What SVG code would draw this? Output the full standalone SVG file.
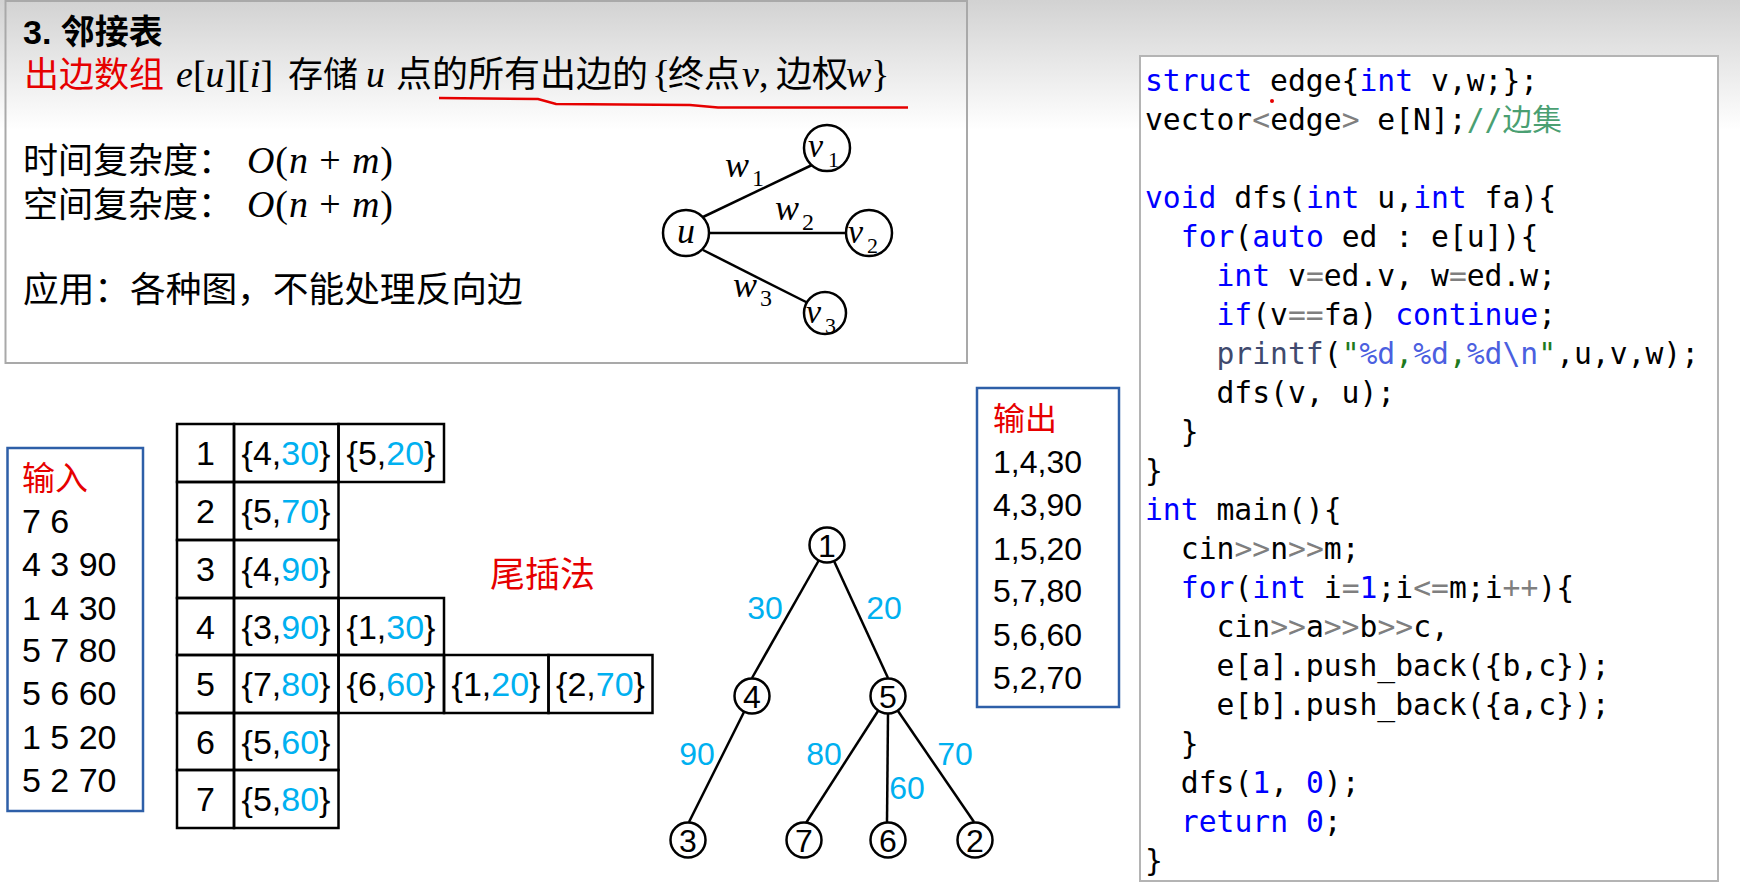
<svg xmlns="http://www.w3.org/2000/svg" width="1740" height="892" viewBox="0 0 1740 892">
<defs>
<linearGradient id="bg" gradientUnits="userSpaceOnUse" x1="0" y1="0" x2="0" y2="130">
<stop offset="0" stop-color="#d2d2d2"/>
<stop offset="1" stop-color="#ffffff"/>
</linearGradient>
<style>
.cjk{font-family:"Noto Sans CJK SC",sans-serif;fill:#000}
.red{fill:#e60000}
.math{font-family:"Liberation Serif",serif;font-style:italic;fill:#000}
.up{font-style:normal}
.lat{font-family:"Liberation Sans",Arial,sans-serif;fill:#000}
.cyan{fill:#00b0f0}
.box{fill:none;stroke:#2e5fa8;stroke-width:2.5}
.cell{fill:none;stroke:#000;stroke-width:2.5}
.node{fill:#fff;stroke:#000;stroke-width:2.5}
.edge{stroke:#000;stroke-width:2.5;fill:none}
.code{font-family:"DejaVu Sans Mono","Liberation Mono",monospace;font-size:29.7px;fill:#000;white-space:pre}
.kw{fill:#0000ff}
.op{fill:#7f7f7f}
.fn{fill:#3f4a6e}
.str{fill:#1e7a1e}
.fmt{fill:#4b5fe0}
.cm{fill:#4a9f72}
.tc{text-anchor:middle}
</style>
</defs>
<rect x="0" y="0" width="1740" height="892" fill="#fff"/>
<rect x="0" y="0" width="1740" height="130" fill="url(#bg)"/>

<!-- top box -->
<g id="topbox">
<rect x="5.5" y="1" width="961.5" height="362" fill="none" stroke="#a9a9a9" stroke-width="2"/>
<text class="cjk" x="23" y="44" font-size="34" font-weight="bold"><tspan font-family="Liberation Sans,Arial,sans-serif">3. </tspan>邻接表</text>
<text class="cjk red" x="24" y="87" font-size="35">出边数组</text>
<text class="math" x="176" y="87" font-size="38">e<tspan class="up">[</tspan>u<tspan class="up">][</tspan>i<tspan class="up">]</tspan></text>
<text class="cjk" x="288" y="87" font-size="35">存储</text>
<text class="math" x="366" y="87" font-size="38">u</text>
<text class="cjk" x="396" y="87" font-size="36">点的所有出边的</text>
<text class="math up" x="652" y="87" font-size="38">{</text>
<text class="cjk" x="668" y="87" font-size="36">终点</text>
<text class="math" x="742" y="87" font-size="38">v<tspan class="up">,</tspan></text>
<text class="cjk" x="776" y="87" font-size="36">边权</text>
<text class="math" x="846" y="87" font-size="38">w<tspan class="up">}</tspan></text>
<path d="M439 98 L538 99 L556 104 L690 105 L718 107.5 L908 107.5" fill="none" stroke="#e60000" stroke-width="2.5"/>
<text class="cjk" x="23" y="173" font-size="35">时间复杂度：</text>
<text class="math" x="247" y="173" font-size="38" textLength="146">O<tspan class="up">(</tspan>n <tspan class="up">+</tspan> m<tspan class="up">)</tspan></text>
<text class="cjk" x="23" y="217" font-size="35">空间复杂度：</text>
<text class="math" x="247" y="217" font-size="38" textLength="146">O<tspan class="up">(</tspan>n <tspan class="up">+</tspan> m<tspan class="up">)</tspan></text>
<text class="cjk" x="23" y="302" font-size="35.7">应用：各种图，不能处理反向边</text>
</g>

<!-- small graph -->
<g id="small-edges">
<line class="edge" x1="703" y1="217" x2="812" y2="165"/>
<line class="edge" x1="709" y1="233" x2="846" y2="233"/>
<line class="edge" x1="703" y1="250" x2="808" y2="303"/>
</g>
<g id="node-u"><circle class="node" cx="686" cy="233" r="23"/><text class="math tc" x="686" y="243" font-size="36">u</text></g>
<g id="node-v1"><circle class="node" cx="827" cy="148" r="23"/><text class="math" x="808" y="157" font-size="34">v</text><text class="math up" x="828" y="167" font-size="22">1</text></g>
<g id="node-v2"><circle class="node" cx="869" cy="233" r="23"/><text class="math" x="848" y="243" font-size="34">v</text><text class="math up" x="867" y="253" font-size="22">2</text></g>
<g id="node-v3"><circle class="node" cx="825" cy="313" r="21"/><text class="math" x="806" y="323" font-size="34">v</text><text class="math up" x="825" y="333" font-size="22">3</text></g>
<g id="small-labels">
<text class="math" x="725" y="177" font-size="36">w</text><text class="math up" x="752" y="186" font-size="24">1</text>
<text class="math" x="775" y="220" font-size="36">w</text><text class="math up" x="802" y="230" font-size="24">2</text>
<text class="math" x="733" y="297" font-size="36">w</text><text class="math up" x="760" y="306" font-size="24">3</text>
</g>

<!-- input box -->
<g id="input">
<rect class="box" x="7.5" y="448" width="135.5" height="363"/>
<text class="cjk red" x="22" y="490" font-size="33">输入</text>
<text class="lat red" x="22" y="533" font-size="34">7 6</text>
<text class="lat" x="22" y="576" font-size="34">4 3 90</text>
<text class="lat" x="22" y="619.5" font-size="34">1 4 30</text>
<text class="lat" x="22" y="662" font-size="34">5 7 80</text>
<text class="lat" x="22" y="705" font-size="34">5 6 60</text>
<text class="lat" x="22" y="749" font-size="34">1 5 20</text>
<text class="lat" x="22" y="792" font-size="34">5 2 70</text>
</g>

<!-- adjacency table -->
<g id="table">
<rect class="cell" x="177" y="424" width="57" height="58"/>
<rect class="cell" x="234" y="424" width="104.5" height="58"/>
<rect class="cell" x="338.5" y="424" width="105.5" height="58"/>
<rect class="cell" x="177" y="482" width="57" height="58"/>
<rect class="cell" x="234" y="482" width="104.5" height="58"/>
<rect class="cell" x="177" y="540" width="57" height="58"/>
<rect class="cell" x="234" y="540" width="104.5" height="58"/>
<rect class="cell" x="177" y="598" width="57" height="57"/>
<rect class="cell" x="234" y="598" width="104.5" height="57"/>
<rect class="cell" x="338.5" y="598" width="105.5" height="57"/>
<rect class="cell" x="177" y="655" width="57" height="58"/>
<rect class="cell" x="234" y="655" width="104.5" height="58"/>
<rect class="cell" x="338.5" y="655" width="105.5" height="58"/>
<rect class="cell" x="444" y="655" width="104.5" height="58"/>
<rect class="cell" x="548.5" y="655" width="104" height="58"/>
<rect class="cell" x="177" y="713" width="57" height="57"/>
<rect class="cell" x="234" y="713" width="104.5" height="57"/>
<rect class="cell" x="177" y="770" width="57" height="58"/>
<rect class="cell" x="234" y="770" width="104.5" height="58"/>
<g class="lat tc" font-size="34">
<text x="205.5" y="465">1</text><text x="286" y="465">{4,<tspan class="cyan">30</tspan>}</text><text x="391" y="465">{5,<tspan class="cyan">20</tspan>}</text>
<text x="205.5" y="523">2</text><text x="286" y="523">{5,<tspan class="cyan">70</tspan>}</text>
<text x="205.5" y="581">3</text><text x="286" y="581">{4,<tspan class="cyan">90</tspan>}</text>
<text x="205.5" y="638.5">4</text><text x="286" y="638.5">{3,<tspan class="cyan">90</tspan>}</text><text x="391" y="638.5">{1,<tspan class="cyan">30</tspan>}</text>
<text x="205.5" y="696">5</text><text x="286" y="696">{7,<tspan class="cyan">80</tspan>}</text><text x="391" y="696">{6,<tspan class="cyan">60</tspan>}</text><text x="496" y="696">{1,<tspan class="cyan">20</tspan>}</text><text x="600.5" y="696">{2,<tspan class="cyan">70</tspan>}</text>
<text x="205.5" y="753.5">6</text><text x="286" y="753.5">{5,<tspan class="cyan">60</tspan>}</text>
<text x="205.5" y="811">7</text><text x="286" y="811">{5,<tspan class="cyan">80</tspan>}</text>
</g>
</g>
<text class="cjk red" x="490" y="587" font-size="35">尾插法</text>

<!-- tree -->
<g id="connectors">
<line class="edge" x1="819" y1="560" x2="752" y2="678"/>
<line class="edge" x1="834" y1="561" x2="888" y2="678"/>
<line class="edge" x1="744" y1="712" x2="689" y2="822"/>
<line class="edge" x1="878" y1="711" x2="806" y2="823"/>
<line class="edge" x1="888" y1="714" x2="887" y2="822"/>
<line class="edge" x1="898" y1="711" x2="974" y2="822"/>
</g>
<g id="edge-labels" class="lat tc cyan" font-size="32">
<text x="765" y="618.5">30</text>
<text x="884" y="618.5">20</text>
<text x="697" y="764.5">90</text>
<text x="824" y="764.5">80</text>
<text x="907" y="798.5">60</text>
<text x="955" y="764.5">70</text>
</g>
<g id="t1"><circle class="node" cx="827" cy="545" r="17.5"/><text class="lat tc" x="827" y="556.5" font-size="32">1</text></g>
<g id="t4"><circle class="node" cx="752" cy="696" r="17.5"/><text class="lat tc" x="752" y="707.5" font-size="32">4</text></g>
<g id="t5"><circle class="node" cx="888" cy="696" r="17.5"/><text class="lat tc" x="888" y="707.5" font-size="32">5</text></g>
<g id="t3"><circle class="node" cx="688" cy="840" r="17.5"/><text class="lat tc" x="688" y="851.5" font-size="32">3</text></g>
<g id="t7"><circle class="node" cx="804" cy="840" r="17.5"/><text class="lat tc" x="804" y="851.5" font-size="32">7</text></g>
<g id="t6"><circle class="node" cx="888" cy="840" r="17.5"/><text class="lat tc" x="888" y="851.5" font-size="32">6</text></g>
<g id="t2"><circle class="node" cx="975" cy="840" r="17.5"/><text class="lat tc" x="975" y="851.5" font-size="32">2</text></g>

<!-- output box -->
<g id="output">
<rect class="box" x="977" y="388" width="142" height="319"/>
<text class="cjk red" x="993" y="430" font-size="32">输出</text>
<text class="lat" x="993" y="472.5" font-size="32">1,4,30</text>
<text class="lat" x="993" y="515.5" font-size="32">4,3,90</text>
<text class="lat" x="993" y="559.5" font-size="32">1,5,20</text>
<text class="lat" x="993" y="601.5" font-size="32">5,7,80</text>
<text class="lat" x="993" y="645.5" font-size="32">5,6,60</text>
<text class="lat" x="993" y="688.5" font-size="32">5,2,70</text>
</g>

<!-- code box -->
<g id="code">
<rect x="1140" y="56" width="578" height="825" fill="#fff" stroke="#b4b4b4" stroke-width="2"/>
<circle cx="1272" cy="101" r="2" fill="#e60000"/>
<g class="code">
<text x="1145" y="90.5"><tspan class="kw">struct</tspan> edge{<tspan class="kw">int</tspan> v,w;};</text>
<text x="1145" y="129.5">vector<tspan class="op">&lt;</tspan>edge<tspan class="op">&gt;</tspan> e[N];<tspan class="cm" font-family="DejaVu Sans Mono,Noto Sans CJK SC,monospace">//边集</tspan></text>
<text x="1145" y="207.5"><tspan class="kw">void</tspan> dfs(<tspan class="kw">int</tspan> u,<tspan class="kw">int</tspan> fa){</text>
<text x="1180.8" y="246.5"><tspan class="kw">for</tspan>(<tspan class="kw">auto</tspan> ed : e[u]){</text>
<text x="1216.5" y="285.5"><tspan class="kw">int</tspan> v<tspan class="op">=</tspan>ed.v, w<tspan class="op">=</tspan>ed.w;</text>
<text x="1216.5" y="324.5"><tspan class="kw">if</tspan>(v<tspan class="op">==</tspan>fa) <tspan class="kw">continue</tspan>;</text>
<text x="1216.5" y="363.5"><tspan class="fn">printf</tspan>(<tspan class="str">"</tspan><tspan class="fmt">%d</tspan><tspan class="str">,</tspan><tspan class="fmt">%d</tspan><tspan class="str">,</tspan><tspan class="fmt">%d\n</tspan><tspan class="str">"</tspan>,u,v,w);</text>
<text x="1216.5" y="402.5">dfs(v, u);</text>
<text x="1180.8" y="441.5">}</text>
<text x="1145" y="480.5">}</text>
<text x="1145" y="519.5"><tspan class="kw">int</tspan> main(){</text>
<text x="1180.8" y="558.5">cin<tspan class="op">&gt;&gt;</tspan>n<tspan class="op">&gt;&gt;</tspan>m;</text>
<text x="1180.8" y="597.5"><tspan class="kw">for</tspan>(<tspan class="kw">int</tspan> i<tspan class="op">=</tspan><tspan class="kw">1</tspan>;i<tspan class="op">&lt;=</tspan>m;i<tspan class="op">++</tspan>){</text>
<text x="1216.5" y="636.5">cin<tspan class="op">&gt;&gt;</tspan>a<tspan class="op">&gt;&gt;</tspan>b<tspan class="op">&gt;&gt;</tspan>c,</text>
<text x="1216.5" y="675.5">e[a].push_back({b,c});</text>
<text x="1216.5" y="714.5">e[b].push_back({a,c});</text>
<text x="1180.8" y="753.5">}</text>
<text x="1180.8" y="792.5">dfs(<tspan class="kw">1</tspan>, <tspan class="kw">0</tspan>);</text>
<text x="1180.8" y="831.5"><tspan class="kw">return</tspan> <tspan class="kw">0</tspan>;</text>
<text x="1145" y="870.5">}</text>
</g>
</g>
</svg>
